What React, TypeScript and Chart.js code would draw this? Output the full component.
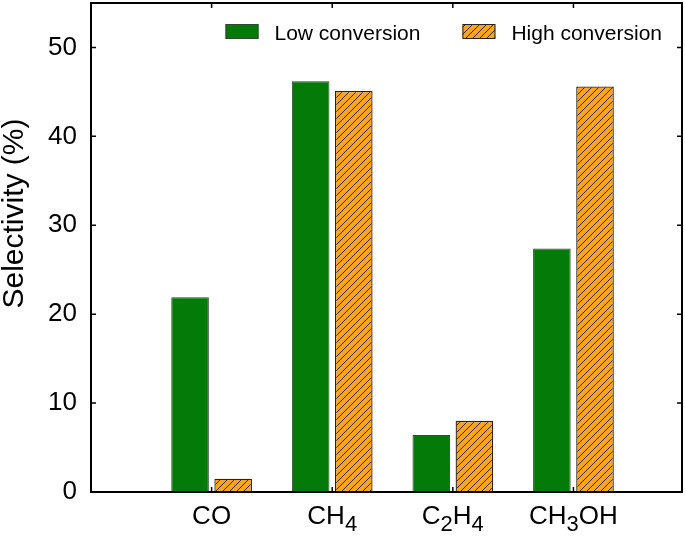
import React, { useEffect, useRef } from 'react';
import { Chart, registerables } from 'chart.js';

Chart.register(...registerables);

// ---- data ----
const categories = ['CO', 'CH₄', 'C₂H₄', 'CH₃OH'];
const categoryPositions = [1, 2, 3, 4];
const lowConversion = [21.9, 46.2, 6.4, 27.4];
const highConversion = [1.5, 45.1, 8.0, 45.6];
const yTicks = [0, 10, 20, 30, 40, 50];
const seriesLabels = ['Low conversion', 'High conversion'];
const yTitle = 'Selectivity (%)';

// ---- styles ----
const FONT = '"Liberation Sans", Arial, Helvetica, sans-serif';
const GREEN = '#047a08';
const GREEN_EDGE = '#2f4a2f';
const ORANGE = '#f8a422';
const HATCH = '#3a2a12';
const TICK = 5;

function makeHatch(): CanvasPattern | string {
  const s = 7;
  const c = document.createElement('canvas');
  c.width = s;
  c.height = s;
  const g = c.getContext('2d');
  if (!g) return ORANGE;
  g.fillStyle = ORANGE;
  g.fillRect(0, 0, s, s);
  g.strokeStyle = HATCH;
  g.lineWidth = 1;
  g.beginPath();
  g.moveTo(-1, s + 1);
  g.lineTo(s + 1, -1);
  g.moveTo(-2, 2);
  g.lineTo(2, -2);
  g.moveTo(s - 2, s + 2);
  g.lineTo(s + 2, s - 2);
  g.stroke();
  return g.createPattern(c, 'repeat') || ORANGE;
}

function splitSubs(label: string) {
  const parts: { text: string; sub: boolean }[] = [];
  for (const ch of label) {
    const code = ch.charCodeAt(0);
    const sub = code >= 0x2080 && code <= 0x2089;
    const t = sub ? String(code - 0x2080) : ch;
    const last = parts[parts.length - 1];
    if (last && last.sub === sub) last.text += t;
    else parts.push({ text: t, sub });
  }
  return parts;
}

const decorPlugin = {
  id: 'decor',
  afterDatasetsDraw(chart: any) {
    const { ctx, chartArea: a, scales } = chart;
    const xs = scales.x;
    const ys = scales.y;
    ctx.save();
    // frame
    ctx.strokeStyle = '#000';
    ctx.lineWidth = 2;
    ctx.strokeRect(a.left, a.top, a.right - a.left, a.bottom - a.top);
    // inward ticks
    ctx.lineWidth = 1.5;
    ctx.beginPath();
    for (const t of xs.ticks) {
      const px = xs.getPixelForValue(t.value);
      ctx.moveTo(px, a.bottom);
      ctx.lineTo(px, a.bottom - TICK);
      ctx.moveTo(px, a.top);
      ctx.lineTo(px, a.top + TICK);
    }
    for (const t of ys.ticks) {
      const py = ys.getPixelForValue(t.value);
      ctx.moveTo(a.left, py);
      ctx.lineTo(a.left + TICK, py);
      ctx.moveTo(a.right, py);
      ctx.lineTo(a.right - TICK, py);
    }
    ctx.stroke();

    // x category labels with subscripts
    const mainSize = 26;
    const subSize = 22;
    ctx.fillStyle = '#000';
    ctx.textBaseline = 'alphabetic';
    ctx.textAlign = 'left';
    categories.forEach((lab, i) => {
      const parts = splitSubs(lab);
      let total = 0;
      const widths = parts.map((p) => {
        ctx.font = `${p.sub ? subSize : mainSize}px ${FONT}`;
        const w = ctx.measureText(p.text).width;
        total += w;
        return w;
      });
      let cx = xs.getPixelForValue(categoryPositions[i]) - total / 2;
      const base = a.bottom + 32;
      parts.forEach((p, j) => {
        ctx.font = `${p.sub ? subSize : mainSize}px ${FONT}`;
        ctx.fillText(p.text, cx, p.sub ? base + 7 : base);
        cx += widths[j];
      });
    });

    // y title
    ctx.save();
    ctx.font = `30px ${FONT}`;
    ctx.textAlign = 'center';
    ctx.textBaseline = 'middle';
    ctx.translate(15, (a.top + a.bottom) / 2 - 34);
    ctx.rotate(-Math.PI / 2);
    ctx.fillText(yTitle, 0, 0);
    ctx.restore();

    // legend (inside plot, top right)
    ctx.font = `21px ${FONT}`;
    const ds = chart.data.datasets;
    let cursor = a.right - 20;
    const boxW = 33;
    const boxH = 15;
    const gapText = 16;
    const gapItem = 42;
    for (let i = ds.length - 1; i >= 0; i--) {
      const w = ctx.measureText(ds[i].label).width;
      const textX = cursor - w;
      const boxX = textX - gapText - boxW;
      const boxY = a.top + 21;
      ctx.fillStyle = ds[i].backgroundColor;
      ctx.fillRect(boxX, boxY, boxW, boxH);
      ctx.strokeStyle = ds[i].borderColor;
      ctx.lineWidth = 1;
      ctx.strokeRect(boxX + 0.5, boxY + 0.5, boxW - 1, boxH - 1);
      ctx.fillStyle = '#000';
      ctx.textAlign = 'left';
      ctx.textBaseline = 'alphabetic';
      ctx.fillText(ds[i].label, textX, a.top + 36.5);
      cursor = boxX - gapItem;
    }
    ctx.restore();
  },
};

export default function App() {
  const ref = useRef<HTMLCanvasElement | null>(null);
  useEffect(() => {
    if (!ref.current) return;
    const hatch = makeHatch();
    const chart = new Chart(ref.current, {
      type: 'bar',
      data: {
        datasets: [
          {
            label: seriesLabels[0],
            data: categoryPositions.map((p, i) => ({ x: p, y: lowConversion[i] })),
            backgroundColor: GREEN,
            borderColor: GREEN_EDGE,
            borderWidth: 1,
            categoryPercentage: 0.715,
            barPercentage: 0.872,
          },
          {
            label: seriesLabels[1],
            data: categoryPositions.map((p, i) => ({ x: p, y: highConversion[i] })),
            backgroundColor: hatch as any,
            borderColor: '#2a2218',
            borderWidth: 1.3,
            categoryPercentage: 0.715,
            barPercentage: 0.872,
          },
        ],
      },
      options: {
        responsive: false,
        animation: false,
        devicePixelRatio: 1,
        layout: { padding: { left: 0, top: 3, right: 3, bottom: 0 } },
        plugins: {
          legend: { display: false },
          tooltip: { enabled: false },
        },
        scales: {
          x: {
            type: 'linear',
            min: 0,
            max: 4.9,
            offset: false,
            grid: { display: false },
            border: { display: false },
            ticks: { display: false },
            afterBuildTicks: (s: any) => {
              s.ticks = categoryPositions.map((v) => ({ value: v }));
            },
            afterFit: (s: any) => {
              s.height = 46;
              s.paddingLeft = 0;
              s.paddingRight = 0;
            },
          },
          y: {
            min: 0,
            max: 55,
            grid: { display: false, drawTicks: false },
            border: { display: false },
            ticks: {
              font: { family: FONT, size: 26 },
              color: '#000',
              padding: 14,
            },
            afterBuildTicks: (s: any) => {
              s.ticks = yTicks.map((v) => ({ value: v }));
            },
            afterFit: (s: any) => {
              s.width = 91;
              s.paddingTop = 0;
              s.paddingBottom = 0;
            },
          },
        },
      } as any,
      plugins: [decorPlugin],
    });
    return () => chart.destroy();
  }, []);
  return (
    <div style={{ position: 'absolute', left: 0, top: 0, width: 685, height: 538, background: '#fff' }}>
      <canvas ref={ref} width={685} height={538} style={{ display: 'block' }} />
    </div>
  );
}
